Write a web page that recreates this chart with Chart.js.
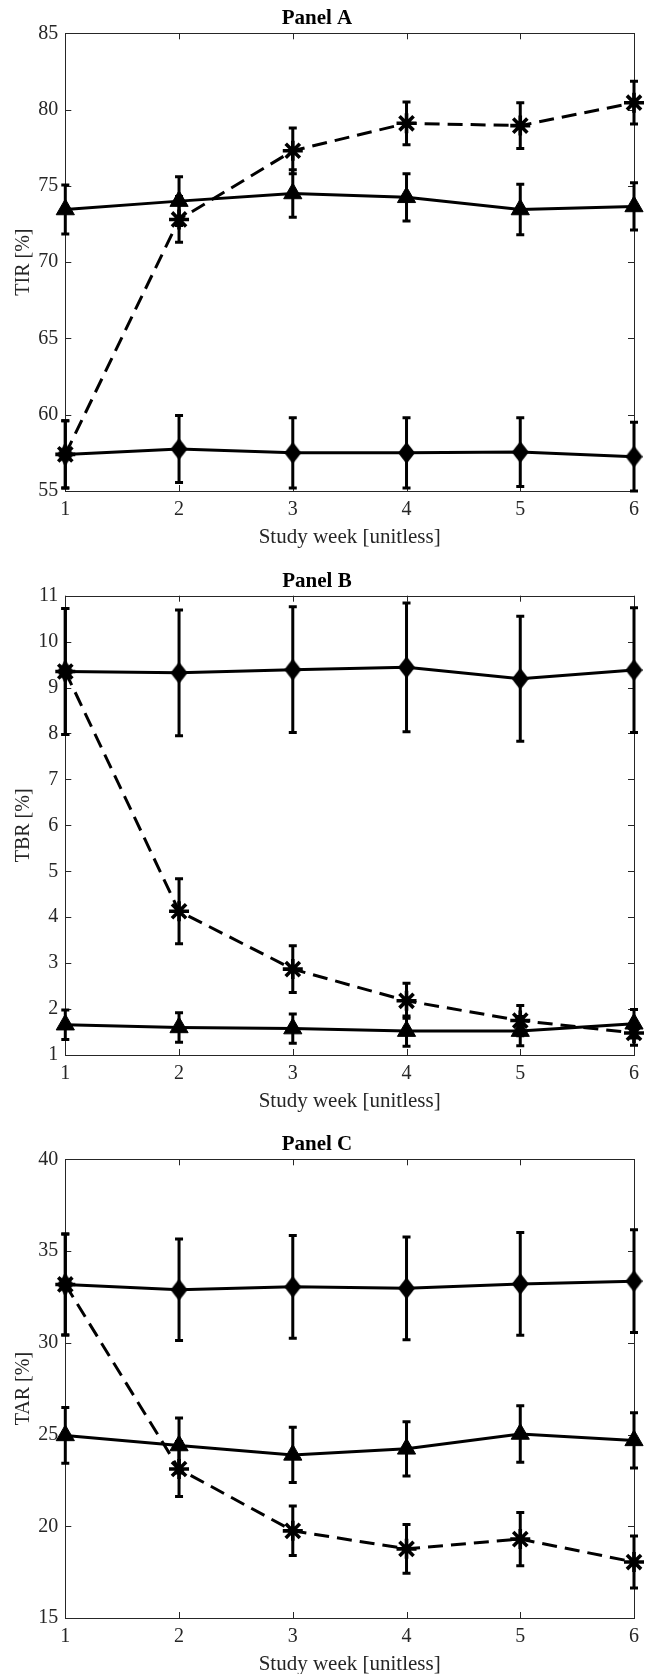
<!DOCTYPE html>
<html><head><meta charset="utf-8">
<script src="https://cdn.jsdelivr.net/npm/chart.js@4.4.1/dist/chart.umd.min.js"></script>
<style>
html,body{margin:0;padding:0;background:#fff;width:652px;height:1674px;overflow:hidden;position:relative}
canvas{position:absolute;left:0}
</style></head>
<body>
<canvas id="cA" width="652" height="550" style="top:0px"></canvas>
<canvas id="cB" width="652" height="552" style="top:562px"></canvas>
<canvas id="cC" width="652" height="553" style="top:1124px"></canvas>
<script>
// ---------------- data ----------------
const weeks = [1, 2, 3, 4, 5, 6];
const xTickLabels = ['1', '2', '3', '4', '5', '6'];
const panelTitles = ['Panel A', 'Panel B', 'Panel C'];
const yAxisTitles = ['TIR [%]', 'TBR [%]', 'TAR [%]'];
const xAxisTitle = 'Study week [unitless]';

// Panel A - TIR
const tirStar = [57.4, 72.8, 77.3, 79.1, 78.95, 80.45];
const tirStarErr = [2.2, 1.5, 1.5, 1.4, 1.5, 1.4];
const tirTriangle = [73.45, 74.0, 74.5, 74.25, 73.45, 73.65];
const tirTriangleErr = [1.6, 1.6, 1.55, 1.55, 1.65, 1.55];
const tirDiamond = [57.4, 57.75, 57.5, 57.5, 57.55, 57.25];
const tirDiamondErr = [2.2, 2.2, 2.3, 2.3, 2.25, 2.25];

// Panel B - TBR
const tbrStar = [9.35, 4.13, 2.87, 2.18, 1.75, 1.48];
const tbrStarErr = [1.37, 0.71, 0.51, 0.38, 0.33, 0.27];
const tbrTriangle = [1.66, 1.60, 1.575, 1.52, 1.52, 1.68];
const tbrTriangleErr = [0.32, 0.32, 0.32, 0.33, 0.32, 0.31];
const tbrDiamond = [9.35, 9.32, 9.39, 9.44, 9.19, 9.38];
const tbrDiamondErr = [1.37, 1.37, 1.37, 1.40, 1.36, 1.36];

// Panel C - TAR
const tarStar = [33.18, 23.12, 19.75, 18.77, 19.3, 18.05];
const tarStarErr = [2.75, 1.5, 1.35, 1.33, 1.45, 1.42];
const tarTriangle = [24.95, 24.4, 23.89, 24.22, 25.03, 24.68];
const tarTriangleErr = [1.52, 1.5, 1.51, 1.48, 1.54, 1.5];
const tarDiamond = [33.18, 32.89, 33.05, 32.97, 33.21, 33.36];
const tarDiamondErr = [2.75, 2.77, 2.8, 2.8, 2.8, 2.8];

const yRanges = [[55, 85, 5], [1, 11, 1], [15, 40, 5]];

// ---------------- styling ----------------
const FONT = "'Liberation Serif', 'Times New Roman', serif";
const AXIS_COLOR = '#262626';

function makeDiamond() {
  const c = document.createElement('canvas');
  c.width = 17; c.height = 22;
  const g = c.getContext('2d');
  g.fillStyle = '#000';
  g.beginPath();
  g.moveTo(8.5, 0); g.lineTo(17, 11); g.lineTo(8.5, 22); g.lineTo(0, 11);
  g.closePath(); g.fill();
  return c;
}
const diamondImg = makeDiamond();

const boxPlugin = {
  id: 'boxAndErrors',
  beforeDatasetsDraw(chart) {
    const {ctx, chartArea: a, scales: {x, y}} = chart;
    ctx.save();
    // axes box
    ctx.strokeStyle = AXIS_COLOR;
    ctx.lineWidth = 1;
    ctx.strokeRect(Math.round(a.left) + 0.5, Math.round(a.top) + 0.5,
                   Math.round(a.right - a.left), Math.round(a.bottom - a.top));
    // inward ticks
    const tl = 6;
    ctx.beginPath();
    x.ticks.forEach(t => {
      const px = Math.round(x.getPixelForValue(t.value)) + 0.5;
      ctx.moveTo(px, a.bottom); ctx.lineTo(px, a.bottom - tl);
      ctx.moveTo(px, a.top); ctx.lineTo(px, a.top + tl);
    });
    y.ticks.forEach(t => {
      const py = Math.round(y.getPixelForValue(t.value)) + 0.5;
      ctx.moveTo(a.left, py); ctx.lineTo(a.left + tl, py);
      ctx.moveTo(a.right, py); ctx.lineTo(a.right - tl, py);
    });
    ctx.stroke();
    // error bars
    ctx.strokeStyle = '#000';
    ctx.lineWidth = 3;
    ctx.lineCap = 'butt';
    const cap = 4;
    chart.data.datasets.forEach((ds) => {
      ds.data.forEach((p, j) => {
        const e = ds.err[j];
        const px = x.getPixelForValue(p.x);
        const yt = y.getPixelForValue(p.y + e);
        const yb = y.getPixelForValue(p.y - e);
        ctx.beginPath();
        ctx.moveTo(px, yt); ctx.lineTo(px, yb);
        ctx.moveTo(px - cap, yt); ctx.lineTo(px + cap, yt);
        ctx.moveTo(px - cap, yb); ctx.lineTo(px + cap, yb);
        ctx.stroke();
      });
    });
    ctx.restore();
  }
};

function pts(vals) { return weeks.map((w, i) => ({x: w, y: vals[i]})); }

function makeChart(id, idx, star, starErr, tri, triErr, dia, diaErr, chartTop) {
  const [ymin, ymax, ystep] = yRanges[idx];
  const titleLH = 25.2, padBottom = 1.9;
  const padTop = chartTop - titleLH - padBottom;
  new Chart(document.getElementById(id), {
    type: 'line',
    data: {
      datasets: [
        { data: pts(star), err: starErr, borderColor: '#000', backgroundColor: '#000',
          borderWidth: 3, borderDash: [15, 8], pointStyle: 'star', pointRadius: 10,
          pointBorderWidth: 3.6, pointBorderColor: '#000', clip: false, tension: 0 },
        { data: pts(tri), err: triErr, borderColor: '#000', backgroundColor: '#000',
          borderWidth: 3, pointStyle: 'triangle', pointRadius: 10.5,
          pointBorderWidth: 1, clip: false, tension: 0 },
        { data: pts(dia), err: diaErr, borderColor: '#000', backgroundColor: '#000',
          borderWidth: 3, pointStyle: diamondImg, pointRadius: 10,
          clip: false, tension: 0 }
      ]
    },
    options: {
      responsive: false,
      animation: false,
      devicePixelRatio: 1,
      layout: { padding: { left: 0, right: 18, top: 0, bottom: 0 } },
      plugins: {
        legend: { display: false },
        tooltip: { enabled: false },
        title: {
          display: true, text: panelTitles[idx], color: '#000',
          font: { family: FONT, size: 21, weight: 'bold', lineHeight: 1.2 },
          padding: { top: padTop, bottom: padBottom }
        }
      },
      scales: {
        x: {
          type: 'linear', min: 1, max: 6, offset: false,
          grid: { display: false, drawTicks: false }, border: { display: false },
          ticks: { stepSize: 1, padding: 7, color: AXIS_COLOR,
                   font: { family: FONT, size: 20, lineHeight: 1.2 },
                   callback: (v) => xTickLabels[weeks.indexOf(v)] ?? '' },
          title: { display: true, text: xAxisTitle, color: AXIS_COLOR,
                   font: { family: FONT, size: 21, lineHeight: 1.2 },
                   padding: { top: 0, bottom: 0.4 } },
          afterFit(s) { s.height = 59; }
        },
        y: {
          min: ymin, max: ymax,
          grid: { display: false, drawTicks: false }, border: { display: false },
          ticks: { stepSize: ystep, padding: 7, color: AXIS_COLOR,
                   font: { family: FONT, size: 20, lineHeight: 1.2 } },
          title: { display: true, text: yAxisTitles[idx], color: AXIS_COLOR,
                   font: { family: FONT, size: 20, lineHeight: 1.2 },
                   padding: { top: 12, bottom: 0 } },
          afterFit(s) { s.width = 65.3; }
        }
      }
    },
    plugins: [boxPlugin]
  });
}

makeChart('cA', 0, tirStar, tirStarErr, tirTriangle, tirTriangleErr, tirDiamond, tirDiamondErr, 33.3);
makeChart('cB', 1, tbrStar, tbrStarErr, tbrTriangle, tbrTriangleErr, tbrDiamond, tbrDiamondErr, 33.7);
makeChart('cC', 2, tarStar, tarStarErr, tarTriangle, tarTriangleErr, tarDiamond, tarDiamondErr, 35.3);
</script>
</body></html>
